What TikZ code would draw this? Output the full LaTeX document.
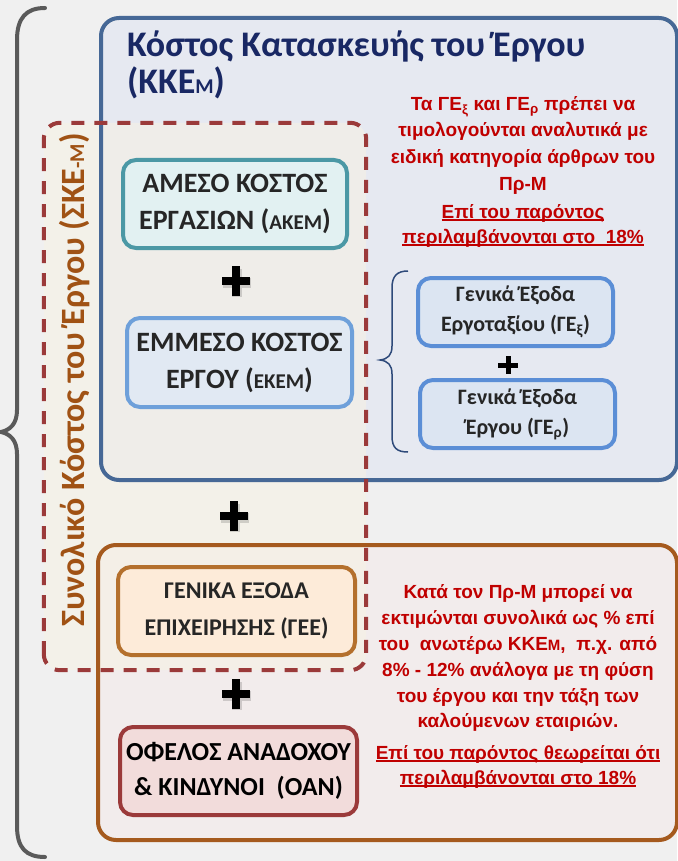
\documentclass[tikz,border=0pt]{standalone}
\usepackage{fontspec}
\setmainfont{Carlito}
\newfontfamily\arialf{Liberation Sans}
\definecolor{bgc}{RGB}{240,240,240}
\definecolor{blueB}{RGB}{70,104,150}
\definecolor{blueF}{RGB}{230,233,241}
\definecolor{brownB}{RGB}{165,90,30}
\definecolor{brownF}{RGB}{242,236,236}
\definecolor{dashc}{RGB}{155,58,58}
\definecolor{creamF}{RGB}{247,242,228}
\definecolor{tealB}{RGB}{75,152,165}
\definecolor{tealF}{RGB}{226,241,242}
\definecolor{lblueB}{RGB}{110,160,218}
\definecolor{lblueF}{RGB}{225,233,243}
\definecolor{sblueB}{RGB}{91,142,214}
\definecolor{sblueF}{RGB}{220,229,242}
\definecolor{orB}{RGB}{180,112,45}
\definecolor{orF}{RGB}{253,235,217}
\definecolor{rdB}{RGB}{155,58,58}
\definecolor{rdF}{RGB}{242,220,219}
\definecolor{navy}{RGB}{25,40,100}
\definecolor{redt}{RGB}{192,0,0}
\definecolor{vbrown}{RGB}{160,82,20}
\definecolor{darkt}{RGB}{38,38,38}
\definecolor{braceg}{RGB}{90,90,90}
\definecolor{braceb}{RGB}{46,74,122}
\newcommand\mysub[1]{\textsubscript{#1}}
\newcommand\myul[1]{\setbox0\hbox{#1}\rlap{\rule[-3pt]{\wd0}{1.7pt}}\box0}
\begin{document}
\begin{tikzpicture}[x=1pt,y=-1pt,
  bigbox/.style={line width=4pt, rounded corners=18pt},
  ibox/.style={draw, line width=4pt, rounded corners=13pt, align=center, inner sep=0pt},
  boxtxt/.style={font=\bfseries\fontsize{28}{37}\selectfont, text=darkt},
  smalltxt/.style={font=\bfseries\fontsize{22}{30}\selectfont, text=darkt},
  redline/.style={anchor=base, text=redt, inner sep=0pt, font=\arialf\bfseries\fontsize{19}{26}\selectfont},
  plusmark/.style={line width=7.5pt, black},
  plusshadow/.style={line width=10pt, black, opacity=0.15},
  dashbox/.style={draw=dashc, line width=4pt, dash pattern=on 13pt off 10pt, rounded corners=16pt}
]
\path[fill=bgc, use as bounding box] (0,0) rectangle (677,861);

% big left brace
\draw[braceg, line width=4pt, line cap=round]
  (45,8) .. controls (26,8) and (17,18) .. (17,40) -- (17,410)
  .. controls (17,424) and (10,430) .. (1,432)
  .. controls (10,434) and (17,440) .. (17,454) -- (17,826)
  .. controls (17,848) and (26,857) .. (45,857);

% big boxes (fills)
\node[bigbox, fill=blueF, minimum width=572pt, minimum height=458pt] (kke) at (389,249) {};
\node[bigbox, fill=brownF, minimum width=575pt, minimum height=291pt] (gee) at (387.5,692.5) {};

% dashed region tint
\node[rounded corners=16pt, fill=creamF, fill opacity=0.55, minimum width=322pt, minimum height=547pt] (ske) at (205,396.5) {};

% big box borders
\draw[bigbox, blueB] (kke.south west) rectangle (kke.north east);
\draw[bigbox, brownB] (gee.south west) rectangle (gee.north east);

% dashed outline
\draw[dashbox] (ske.south west) rectangle (ske.north east);

% title
\node[anchor=base west, inner sep=0pt, text=navy, font=\bfseries\fontsize{36}{38}\selectfont] (t1) at (127,57) {Κόστος Κατασκευής του Έργου};
\node[anchor=base west, inner sep=0pt, text=navy, font=\bfseries\fontsize{36}{38}\selectfont] (t2) at (127,94) {(ΚΚΕ{\fontsize{21}{21}\selectfont Μ})};

% vertical text
\node[anchor=base, rotate=90, inner sep=0pt, text=vbrown, font=\bfseries\fontsize{34}{34}\selectfont] (vt) at (84,380) {Συνολικό Κόστος του Έργου (ΣΚΕ{\fontsize{21}{21}\selectfont -Μ})};

% inner boxes
\node[ibox, boxtxt, draw=tealB, fill=tealF, minimum width=224pt, minimum height=88pt] (ake) at (235,204)
  {ΑΜΕΣΟ ΚΟΣΤΟΣ\\ΕΡΓΑΣΙΩΝ (\fontsize{21}{21}\selectfont ΑΚΕΜ\fontsize{28}{37}\selectfont)};
\node[ibox, boxtxt, draw=lblueB, fill=lblueF, minimum width=225pt, minimum height=89pt] (eke) at (239.5,362.5)
  {ΕΜΜΕΣΟ ΚΟΣΤΟΣ\\ΕΡΓΟΥ (\fontsize{21}{21}\selectfont ΕΚΕΜ\fontsize{28}{37}\selectfont)};
\node[ibox, smalltxt, draw=sblueB, fill=sblueF, minimum width=195pt, minimum height=68pt] (gex) at (515.5,312)
  {Γενικά Έξοδα\\Εργοταξίου (ΓΕ\mysub{ξ})};
\node[ibox, smalltxt, draw=sblueB, fill=sblueF, minimum width=195pt, minimum height=68pt] (ger) at (517.5,414)
  {Γενικά Έξοδα\\Έργου (ΓΕ\mysub{ρ})};
\node[ibox, draw=orB, fill=orF, minimum width=237pt, minimum height=88pt, text=darkt, font=\bfseries\fontsize{24}{37}\selectfont] (gen) at (236.5,611)
  {ΓΕΝΙΚΑ ΕΞΟΔΑ\\ΕΠΙΧΕΙΡΗΣΗΣ (ΓΕΕ)};
\node[ibox, draw=rdB, fill=rdF, minimum width=237pt, minimum height=88pt, text=black, font=\bfseries\fontsize{26}{35}\selectfont] (oan) at (238.5,771)
  {ΟΦΕΛΟΣ ΑΝΑΔΟΧΟΥ\\\&~ΚΙΝΔΥΝΟΙ\ \ (ΟΑΝ)};

% small right brace
\draw[braceb, line width=1.5pt]
  (408,271) .. controls (397,271) and (392,276) .. (392,288) -- (392,346)
  .. controls (392,355) and (388,359) .. (380,360)
  .. controls (388,361) and (392,365) .. (392,374) -- (392,436)
  .. controls (392,448) and (397,452) .. (408,452);

% plus signs
\foreach \px/\py in {236/281, 234/516, 236/694} {
  \draw[plusshadow] (\px-13,\py+2) -- (\px+15,\py+2) (\px+1,\py-12) -- (\px+1,\py+16);
  \draw[plusmark] (\px-14,\py) -- (\px+14,\py) (\px,\py-15) -- (\px,\py+15);
}
\draw[line width=5pt] (498,365) -- (518,365) (508,356) -- (508,374);

% red texts top
\node[redline] (r1) at (523,111) {Τα ΓΕ\mysub{ξ} και ΓΕ\mysub{ρ} πρέπει να};
\node[redline] (r2) at (523,137) {τιμολογούνται αναλυτικά με};
\node[redline] (r3) at (523,164) {ειδική κατηγορία\ άρθρων του};
\node[redline] (r4) at (523,190) {Πρ-Μ};
\node[redline] (r5) at (523,218) {\myul{Επί του παρόντος}};
\node[redline] (r6) at (523,243) {\myul{περιλαμβάνονται στο\ \ 18\%}};

% red texts bottom
\node[redline] (b1) at (518,598) {Κατά τον Πρ-Μ\ μπορεί να};
\node[redline] (b2) at (518,624) {εκτιμώνται συνολικά ως \% επί};
\node[redline] (b3) at (518,650) {του\ \ ανωτέρω ΚΚΕ{\fontsize{15}{15}\selectfont Μ},\ \ π.χ. από};
\node[redline] (b4) at (518,676) {8\% - 12\% ανάλογα με τη φύση};
\node[redline] (b5) at (518,702) {του έργου και την τάξη των};
\node[redline] (b6) at (518,727) {καλούμενων εταιριών.};
\node[redline] (b7) at (518,759) {\myul{Επί του παρόντος\ θεωρείται ότι}};
\node[redline] (b8) at (518,784) {\myul{περιλαμβάνονται στο 18\%}};
\end{tikzpicture}
\end{document}
